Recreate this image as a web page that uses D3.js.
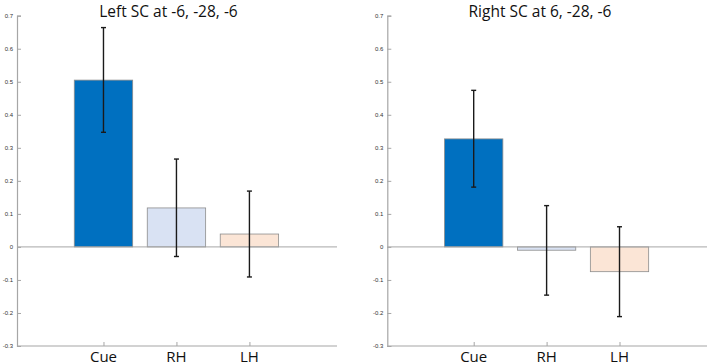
<!DOCTYPE html>
<html>
<head>
<meta charset="utf-8">
<script src="https://cdn.jsdelivr.net/npm/d3@7"></script>
<style>
  html, body { margin: 0; padding: 0; background: #fff; }
  svg { display: block; }
</style>
</head>
<body>
<div id="chart"></div>
<script>
// categories and tick labels
const categories = ['Cue', 'RH', 'LH'];
const barColors = ['#0070c0', '#d9e2f3', '#fbe5d6'];
const yTicks = [0.7, 0.6, 0.5, 0.4, 0.3, 0.2, 0.1, 0, -0.1, -0.2, -0.3];
const yTickLabels = ['0.7', '0.6', '0.5', '0.4', '0.3', '0.2', '0.1', '0', '-0.1', '-0.2', '-0.3'];

// left superior colliculus
const leftTitle = 'Left SC at -6, -28, -6';
const leftMeans = [0.505, 0.118, 0.039];
const leftErrHigh = [0.664, 0.266, 0.169];
const leftErrLow = [0.347, -0.029, -0.091];

// right superior colliculus
const rightTitle = 'Right SC at 6, -28, -6';
const rightMeans = [0.327, -0.010, -0.075];
const rightErrHigh = [0.474, 0.125, 0.061];
const rightErrLow = [0.181, -0.146, -0.211];

const width = 708, height = 364;
const svg = d3.select('#chart').append('svg')
    .attr('width', width)
    .attr('height', height);

// shared y scale (both panels use the same range)
const yScale = d3.scaleLinear().domain([-0.3, 0.7]).range([346, 15.7]);

function drawPanel(x0, x1, title, means, errHigh, errLow, titleX) {
    const xScale = d3.scaleLinear().domain([-0.185, 4.2]).range([x0, x1]);
    const barW = xScale(0.8) - xScale(0);
    const g = svg.append('g');
    const axisColor = '#a6a6a6';

    // y axis
    const yAxis = d3.axisRight(yScale)
        .tickValues(yTicks)
        .tickSize(4)
        .tickFormat((d, i) => yTickLabels[i]);
    g.append('g')
        .attr('transform', `translate(${x0},0)`)
        .call(yAxis)
        .call(a => a.select('.domain').attr('stroke', axisColor).attr('stroke-width', 1.2))
        .call(a => a.selectAll('.tick line').attr('stroke', axisColor))
        .call(a => a.selectAll('.tick text')
            .attr('x', -4)
            .attr('text-anchor', 'end')
            .attr('font-family', 'Liberation Sans, sans-serif')
            .attr('font-size', '6px')
            .attr('fill', '#333'));

    // bottom axis
    const xAxis = d3.axisTop(xScale)
        .tickValues([1, 2, 3])
        .tickSize(4)
        .tickFormat('');
    g.append('g')
        .attr('transform', `translate(0,${yScale(-0.3)})`)
        .call(xAxis)
        .call(a => a.select('.domain').attr('d', `M${x0},0H${x1}`).attr('stroke', axisColor).attr('stroke-width', 1.2))
        .call(a => a.selectAll('.tick line').attr('stroke', axisColor));

    // category labels
    g.selectAll('.cat')
        .data(categories)
        .join('text')
        .attr('x', (d, i) => xScale(i + 1))
        .attr('y', 361.5)
        .attr('text-anchor', 'middle')
        .attr('font-family', 'Open Sans, sans-serif')
        .attr('font-size', '15px')
        .attr('fill', '#111')
        .text(d => d);

    // bars
    g.selectAll('.bar')
        .data(means)
        .join('rect')
        .attr('x', (d, i) => xScale(i + 1) - barW / 2)
        .attr('y', d => yScale(Math.max(0, d)))
        .attr('width', barW)
        .attr('height', d => Math.abs(yScale(d) - yScale(0)))
        .attr('fill', (d, i) => barColors[i])
        .attr('stroke', '#8c8c8c')
        .attr('stroke-width', 0.8);

    // zero line
    g.append('line')
        .attr('x1', x0).attr('x2', x1)
        .attr('y1', yScale(0)).attr('y2', yScale(0))
        .attr('stroke', axisColor)
        .attr('stroke-width', 1);

    // error bars
    const capW = 2.5;
    means.forEach((m, i) => {
        const cx = xScale(i + 1);
        const eg = g.append('g').attr('stroke', '#1a1a1a').attr('stroke-width', 1.4);
        eg.append('line')
            .attr('x1', cx).attr('x2', cx)
            .attr('y1', yScale(errHigh[i])).attr('y2', yScale(errLow[i]));
        [errHigh[i], errLow[i]].forEach(v => {
            eg.append('line')
                .attr('x1', cx - capW).attr('x2', cx + capW)
                .attr('y1', yScale(v)).attr('y2', yScale(v));
        });
    });

    // title
    g.append('text')
        .attr('x', titleX)
        .attr('y', 16.5)
        .attr('text-anchor', 'middle')
        .attr('font-family', 'Open Sans, sans-serif')
        .attr('font-size', '15.5px')
        .attr('fill', '#111')
        .text(title);
}

drawPanel(17, 337, leftTitle, leftMeans, leftErrHigh, leftErrLow, 168.5);
drawPanel(387.3, 707, rightTitle, rightMeans, rightErrHigh, rightErrLow, 540);
</script>
</body>
</html>
